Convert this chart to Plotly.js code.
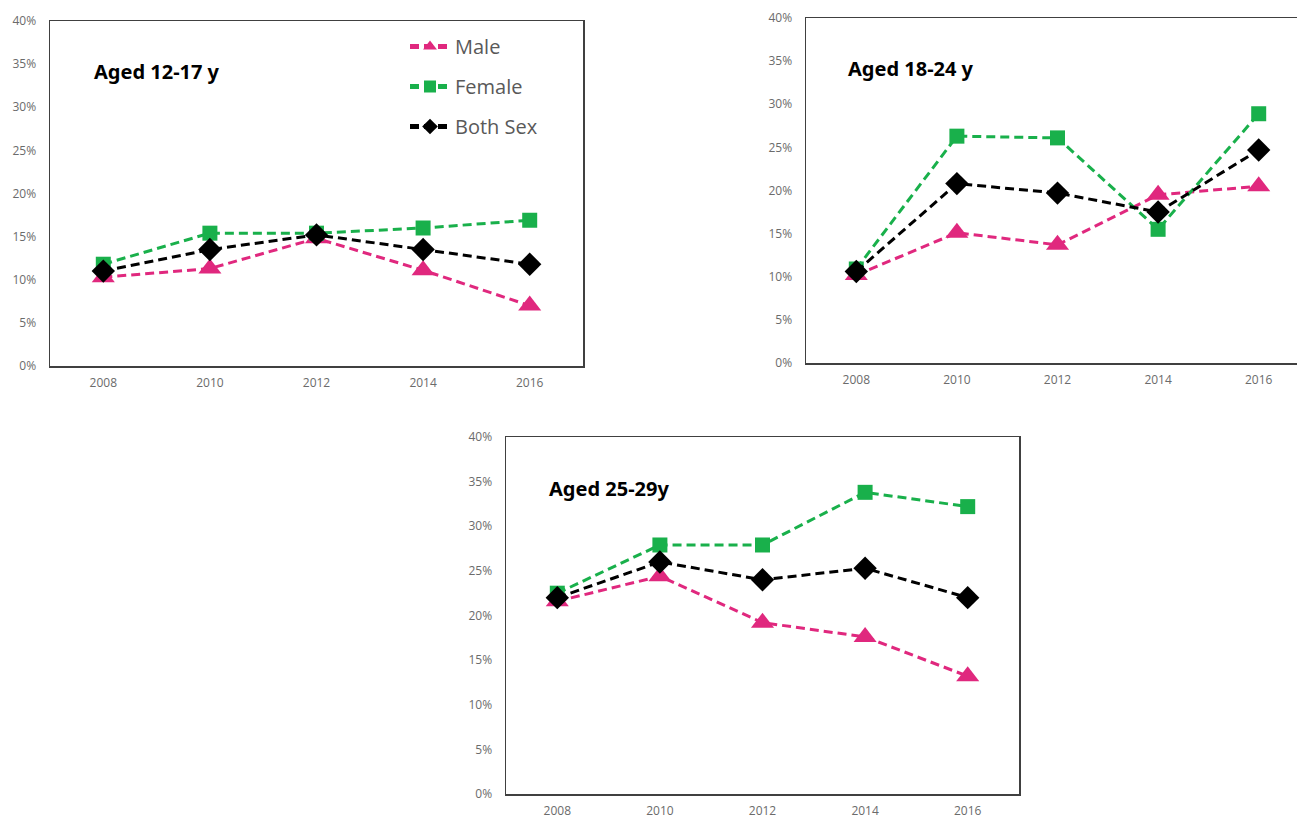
<!DOCTYPE html>
<html>
<head>
<meta charset="utf-8">
<script src="https://cdn.plot.ly/plotly-3.0.1.min.js"></script>
<style>
html,body{margin:0;padding:0;background:#fff;overflow:hidden;}
#chart{width:1310px;height:820px;}
</style>
</head>
<body>
<div id="chart"></div>
<script>
const years = ['2008', '2010', '2012', '2014', '2016'];
const seriesNames = ['Male', 'Female', 'Both Sex'];
const panelTitles = ['Aged 12-17 y', 'Aged 18-24 y', 'Aged 25-29y'];

// values in percent
const male1217   = [10.3, 11.3, 14.8, 11.1, 7.0];
const female1217 = [11.8, 15.4, 15.4, 16.0, 16.9];
const both1217   = [11.0, 13.5, 15.2, 13.5, 11.8];

const male1824   = [10.2, 15.1, 13.7, 19.5, 20.5];
const female1824 = [10.9, 26.3, 26.1, 15.5, 28.9];
const both1824   = [10.6, 20.8, 19.7, 17.5, 24.7];

const male2529   = [21.6, 24.4, 19.2, 17.6, 13.2];
const female2529 = [22.5, 27.9, 27.9, 33.8, 32.2];
const both2529   = [22.0, 26.0, 24.0, 25.3, 22.0];

const W = 1310, H = 820;
const colors = ['#E0287E', '#19B04B', '#000000'];
const symbols = ['triangle-up', 'square', 'diamond'];
const msizes = [20, 15, 18];

const panels = [
  {data: [male1217, female1217, both1217], xa: 'x', ya: 'y'},
  {data: [male1824, female1824, both1824], xa: 'x2', ya: 'y2'},
  {data: [male2529, female2529, both2529], xa: 'x3', ya: 'y3'}
];

const traces = [];
panels.forEach((p, pi) => {
  p.data.forEach((vals, si) => {
    traces.push({
      type: 'scatter', mode: 'lines+markers',
      x: years, y: vals, xaxis: p.xa, yaxis: p.ya,
      name: seriesNames[si],
      legendgroup: seriesNames[si],
      showlegend: pi === 0,
      line: {color: colors[si], width: 3, dash: '9px,5px'},
      marker: {color: colors[si], symbol: symbols[si], size: msizes[si]},
      hoverinfo: 'skip'
    });
  });
});

// plot boxes in pixels: [left, right, top, bottom]
const boxes = [[50, 583, 21, 366], [806, 1309, 18, 363], [506, 1019, 437, 794]];

const tickFont = {family: 'Open Sans, Noto Sans, sans-serif', size: 12, color: '#6b6b6b'};
const layout = {
  width: W, height: H,
  margin: {l: 0, r: 0, t: 0, b: 0},
  paper_bgcolor: '#ffffff', plot_bgcolor: '#ffffff',
  showlegend: true,
  legend: {
    x: 405 / W, y: 1 - 27 / H, xanchor: 'left', yanchor: 'top',
    font: {family: 'Open Sans, Noto Sans, sans-serif', size: 20, color: '#595959'},
    bgcolor: 'rgba(0,0,0,0)', traceorder: 'grouped', tracegroupgap: 11,
    itemsizing: 'constant', itemwidth: 40
  },
  annotations: [],
  hovermode: false
};

boxes.forEach((b, i) => {
  const sfx = i === 0 ? '' : String(i + 1);
  layout['xaxis' + sfx] = {
    domain: [b[0] / W, b[1] / W],
    anchor: 'y' + sfx,
    type: 'category',
    range: [-0.5, 4.5],
    showline: true, linecolor: '#404040', linewidth: 1.5, mirror: true,
    showgrid: false, zeroline: false,
    ticks: 'outside', ticklen: 5, tickcolor: 'rgba(0,0,0,0)',
    tickfont: tickFont
  };
  layout['yaxis' + sfx] = {
    domain: [1 - b[3] / H, 1 - b[2] / H],
    anchor: 'x' + sfx,
    range: [0, 40], dtick: 5, ticksuffix: '%',
    showline: true, linecolor: '#404040', linewidth: 1.5, mirror: true,
    showgrid: false, zeroline: false,
    ticks: 'outside', ticklen: 10, tickcolor: 'rgba(0,0,0,0)',
    tickfont: tickFont
  };
  layout.annotations.push({
    xref: 'x' + sfx + ' domain', yref: 'y' + sfx + ' domain',
    x: 0.079, y: 0.855, xanchor: 'left', yanchor: 'middle',
    text: '<b>' + panelTitles[i] + '</b>', showarrow: false,
    font: {family: 'Noto Sans, Open Sans, sans-serif', size: 20, color: '#000'}
  });
});

Plotly.newPlot('chart', traces, layout, {displayModeBar: false, staticPlot: true});
</script>
</body>
</html>
